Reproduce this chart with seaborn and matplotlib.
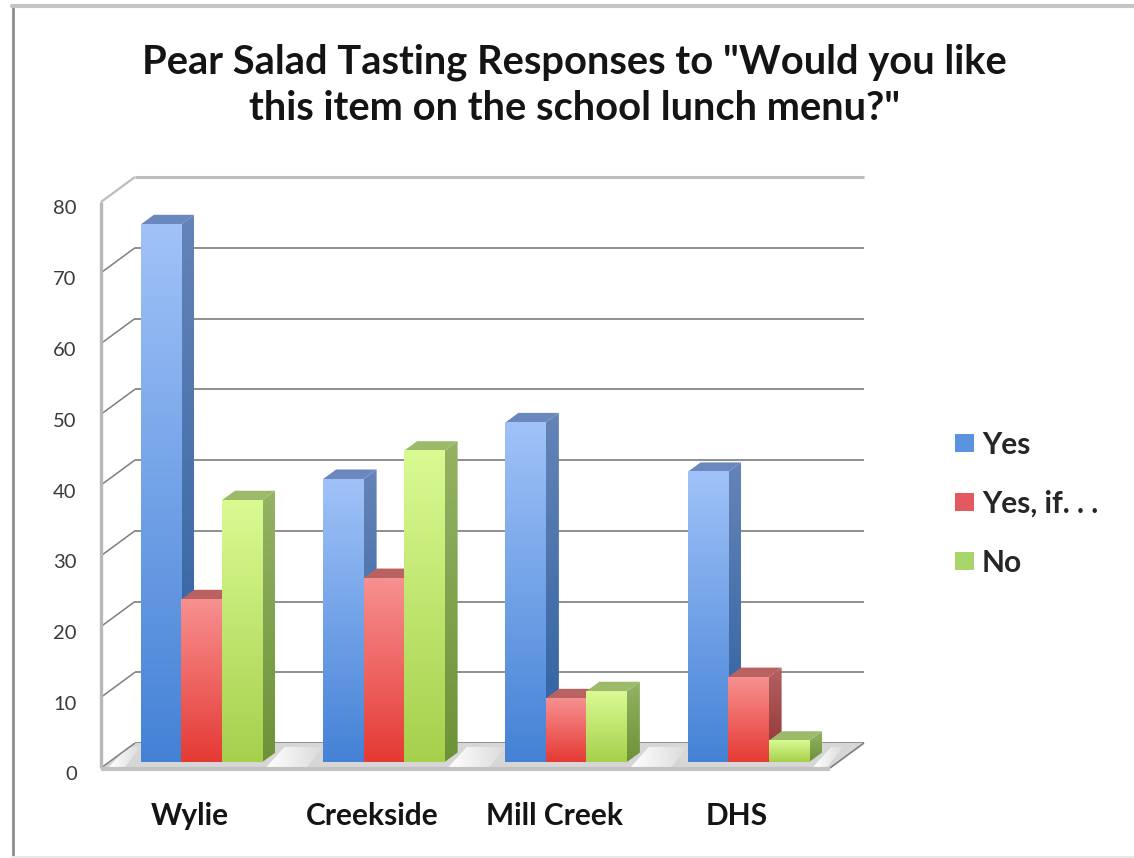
import numpy as np
import pandas as pd
import matplotlib
matplotlib.use("Agg")
import matplotlib.pyplot as plt
import matplotlib.colors as mcolors
import matplotlib.transforms as mtrans
from matplotlib.lines import Line2D
from matplotlib.patches import Polygon
import seaborn as sns

schools = ["Wylie", "Creekside", "Mill Creek", "DHS"]
responses = ["Yes", "Yes, if. . .", "No"]
yes_counts = [76, 40, 48, 41]
yes_if_counts = [23, 26, 9, 12]
no_counts = [37, 44, 10, 3]
y_ticks = [0, 10, 20, 30, 40, 50, 60, 70, 80]
title = 'Pear Salad Tasting Responses to "Would you like\nthis item on the school lunch menu?"'

legend_colors = ["#5A94E0", "#E2595F", "#A9D66A"]
front_shades = [("#A0C2F8", "#4482D6"), ("#F79090", "#E53A34"), ("#DAFA92", "#A6D04C")]
side_shades = [("#6584B8", "#2B5F9F"), ("#B56262", "#8E3232"), ("#94B364", "#6C9238")]
top_shades = ["#6A87BE", "#BA6262", "#9CBA6A"]

W, H, DPI = 1134, 858, 100
sns.set_theme(style="white")
plt.rcParams["font.family"] = ["Lato", "DejaVu Sans"]

fig = plt.figure(figsize=(W / DPI, H / DPI), dpi=DPI, facecolor="white")
ax = fig.add_axes([110.5 / W, (H - 762) / H, 729 / W, 566 / H])
ax.patch.set_alpha(0)

df = pd.DataFrame({
    "School": np.repeat(schools, len(responses)),
    "Response": responses * len(schools),
    "Count": np.ravel(np.column_stack([yes_counts, yes_if_counts, no_counts])),
})
sns.barplot(data=df, x="School", y="Count", hue="Response", hue_order=responses,
            order=schools, palette=legend_colors, width=2 / 3, gap=0, saturation=1,
            linewidth=0, ax=ax)
ax.set_xlim(-0.5, 3.5)
ax.set_ylim(0, 80)
ax.autoscale(False)
sns.despine(ax=ax, left=True, bottom=True)
ax.set_xlabel("")
ax.set_ylabel("")

# Pixel lengths expressed in data units of this axes.
ux, uy = 1 / 182.25, 1 / 7.075
front = (-9.5 * ux, -6 * uy)
back = (24.5 * ux, 19 * uy)
depth = (13 * ux, 9.5 * uy)
x0, x1 = -0.5, 3.5


def gradient(top, bottom, n=128, horizontal=False):
    a = np.array(mcolors.to_rgb(top))
    b = np.array(mcolors.to_rgb(bottom))
    t = np.linspace(0, 1, n)[:, None]
    g = a * (1 - t) + b * t
    return g[None, :, :] if horizontal else g[:, None, :]


def shade(points, top, bottom, z, horizontal=False):
    """Fill a polygon given in data units with a linear colour ramp."""
    pts = np.asarray(points)
    poly = Polygon(pts, closed=True, facecolor="none", edgecolor="none",
                   transform=ax.transData, clip_on=False, zorder=z)
    ax.add_patch(poly)
    im = ax.imshow(gradient(top, bottom, horizontal=horizontal), aspect="auto",
                   interpolation="bilinear", zorder=z,
                   extent=(pts[:, 0].min(), pts[:, 0].max(),
                           pts[:, 1].min(), pts[:, 1].max()))
    im.set_clip_box(fig.bbox)
    im.set_clip_path(poly)
    return im


def line(xs, ys, color, lw, z=1):
    ax.plot(xs, ys, color=color, lw=lw, zorder=z, clip_on=False,
            solid_capstyle="butt", solid_joinstyle="miter")


# Floor of the chart box
floor = [(x0 + front[0], front[1]), (x1 + front[0], front[1]),
         (x1 + back[0], back[1]), (x0 + back[0], back[1])]
ax.add_patch(Polygon(floor, closed=True, facecolor="#D6D6D6", edgecolor="none",
                     zorder=0.5, clip_on=False))

# Gridlines on the back wall and connectors to the left wall
for v in y_ticks:
    is_top = v == y_ticks[-1]
    line([x0 + back[0], x1 + back[0]], [v + back[1]] * 2,
         "#BDBDBD" if is_top else "#8E8E8E", 2.2 if is_top else 1.4, 0.4)
    line([x0 + front[0], x0 + back[0]],
         [v + front[1], v + back[1]],
         "#BDBDBD" if is_top else "#7E7E7E", 1.6 if is_top else 1.1, 0.6)

# Pale patches of floor left clear between the bar groups
bar_width = 2 / 9
edges = [x0 - 0.03] + [i + 1.5 * bar_width for i in range(4)]
starts = [i - 1.5 * bar_width for i in range(4)] + [x1 + 0.02]
for left, right in zip(edges, starts):
    pts = [(left + 4 * ux, -5 * uy), (right - 16 * ux, -5 * uy),
           (right, 15 * uy), (left + 22 * ux, 15 * uy)]
    shade(pts, "#FFFFFF", "#DADADA", 0.55, horizontal=True)

# Left wall and front edge of the floor
line([x0 + front[0]] * 2, [front[1], 80 + front[1]], "#B8B8B8", 2.4, 0.7)
line([x0 + front[0], x1 + front[0]], [front[1] - 0.2] * 2, "#C2C2C2", 3.0, 0.7)
line([x1 + front[0], x1 + back[0]], [front[1], back[1]], "#7E7E7E", 1.2, 0.6)

# Extruded faces for each bar, painted from left to right so nearer bars overlap
n_groups, n_hues = len(schools), len(responses)
for h, container in enumerate(ax.containers):
    for g, bar in enumerate(container):
        left, w, val = bar.get_x(), bar.get_width(), bar.get_height()
        z = 2 + g * 10 + h
        bar.set_zorder(z)
        right = left + w
        dx, dy = depth
        shade([(right, 0), (right + dx, dy), (right + dx, val + dy), (right, val)],
              *side_shades[h], z)
        ax.add_patch(Polygon([(left, val), (right, val), (right + dx, val + dy),
                              (left + dx, val + dy)], closed=True,
                             facecolor=top_shades[h], edgecolor="none", zorder=z,
                             clip_on=False))
        im = ax.imshow(gradient(*front_shades[h]), aspect="auto",
                       interpolation="bilinear", zorder=z + 0.5,
                       extent=(left, right, 0, val))
ax.set_xlim(x0, x1)
ax.set_ylim(0, 80)

# Tick labels sit on the front plane of the box
ax.set_yticks(y_ticks)
ax.set_yticklabels([str(v) for v in y_ticks])
ax.tick_params(axis="y", length=0, pad=17.5, labelsize=14.5, labelcolor="#3A3A3A")
ax.tick_params(axis="x", length=0, pad=24, labelsize=21.5)
ax.set_xticks(range(n_groups))
ax.set_xticklabels(schools, fontweight="bold", color="#141414")
y_shift = mtrans.ScaledTranslation(front[0] / ux / DPI, -11.5 / DPI, fig.dpi_scale_trans)
x_shift = mtrans.ScaledTranslation((front[0] / ux - 2) / DPI, -7 / DPI, fig.dpi_scale_trans)
for lab in ax.get_yticklabels():
    lab.set_transform(lab.get_transform() + y_shift)
for lab in ax.get_xticklabels():
    lab.set_transform(lab.get_transform() + x_shift)

sns.move_legend(ax, "upper left", bbox_to_anchor=(955 / W, (H - 431) / H),
                bbox_transform=fig.transFigure, frameon=False, title=None,
                handlelength=0.62, handleheight=0.55, handletextpad=0.28,
                labelspacing=1.03, borderpad=0, borderaxespad=0,
                prop={"family": "Lato", "weight": "bold", "size": 21.5})

fig.text(574.5 / W, 1 - 85 / H, title, ha="center", va="center", fontsize=28.7,
         fontweight="bold", color="#141414", linespacing=1.31)

# Thin frame around the chart area
fig.add_artist(Line2D([13 / W, 13 / W], [0, 1 - 5 / H], color="#8C8C8C", lw=2))
fig.add_artist(Line2D([12 / W, 1], [1 - 5.5 / H] * 2, color="#C4C4C4", lw=3))
fig.add_artist(Line2D([12 / W, 1], [1.2 / H] * 2, color="#E8E8E8", lw=1.5))

fig.savefig("out.png", dpi=DPI, facecolor="white")
